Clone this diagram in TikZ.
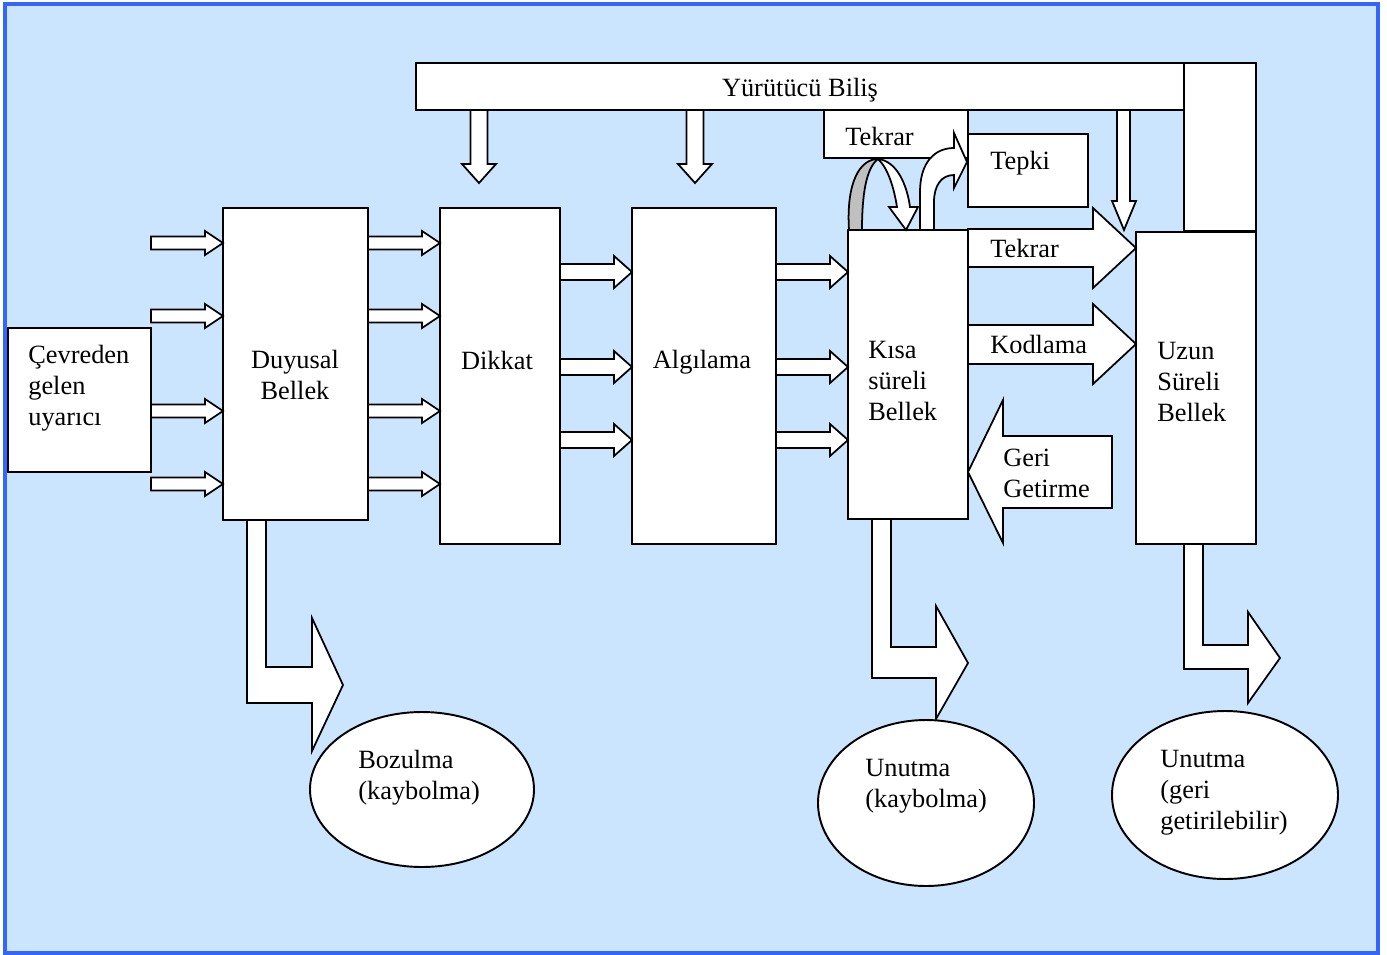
\documentclass[tikz,border=0pt]{standalone}
\usepackage{fontspec}
\setmainfont{Liberation Serif}
\definecolor{bgblue}{HTML}{CCE5FF}
\definecolor{frameblue}{HTML}{3366FF}
\definecolor{loopgray}{HTML}{C0C0C0}

\begin{document}
\begin{tikzpicture}[x=0.02cm, y=-0.02cm, line join=miter,
    box/.style={draw, fill=white, line width=1.1pt},
    blk/.style={draw, fill=white, line width=1pt},
    txt/.style={font=\fontsize{15}{17.6}\selectfont, inner sep=0pt, align=left}]
    \useasboundingbox (0,0) rectangle (1387,954);
    \draw[frameblue, fill=bgblue, line width=2.3pt] (5,4) rectangle (1378,953);

    % boxes
    \draw[box] (8,328) rectangle (151,472);
    \draw[box] (223,208) rectangle (368,520);
    \draw[box] (440,208) rectangle (560,544);
    \draw[box] (632,208) rectangle (776,544);
    \draw[box] (848,230) rectangle (968,519);
    \draw[box] (1136,232) rectangle (1256,544);
    \draw[box] (1184,63) rectangle (1256,231);
    \draw[box] (416,63) rectangle (1184,110);
    \draw[box] (824,110) rectangle (968,158);
    \draw[box] (968,134) rectangle (1088,207);

    % small arrows
    \foreach \y in {243,316,411,484} {
        \draw[blk] (151,\y-6.5) -- (205,\y-6.5) -- (205,\y-12) -- (223,\y) -- (205,\y+12) -- (205,\y+6.5) -- (151,\y+6.5) -- cycle;
        \draw[blk] (368,\y-6.5) -- (422,\y-6.5) -- (422,\y-12) -- (440,\y) -- (422,\y+12) -- (422,\y+6.5) -- (368,\y+6.5) -- cycle;
    }
    \foreach \y in {272,367,440} {
        \draw[blk] (560,\y-8) -- (614,\y-8) -- (614,\y-16) -- (632,\y) -- (614,\y+16) -- (614,\y+8) -- (560,\y+8) -- cycle;
        \draw[blk] (776,\y-8) -- (830,\y-8) -- (830,\y-16) -- (848,\y) -- (830,\y+16) -- (830,\y+8) -- (776,\y+8) -- cycle;
    }
    \foreach \x in {479,695} {
        \draw[blk] (\x-8.5,110) -- (\x-8.5,164) -- (\x-17,164) -- (\x,183) -- (\x+17,164) -- (\x+8.5,164) -- (\x+8.5,110) -- cycle;
    }
    \draw[blk] (1117,110) -- (1117,201) -- (1112,201) -- (1124,230) -- (1136,201) -- (1130,201) -- (1130,110) -- cycle;

    % big arrows
    \draw[blk] (968,229) -- (1093,229) -- (1093,208) -- (1136,248) -- (1093,288) -- (1093,267) -- (968,267) -- cycle;
    \draw[blk] (968,325) -- (1093,325) -- (1093,304) -- (1136,344) -- (1093,384) -- (1093,364) -- (968,364) -- cycle;
    \draw[blk] (968,472) -- (1003,400) -- (1003,436) -- (1112,436) -- (1112,508) -- (1003,508) -- (1003,543) -- cycle;

    % bent arrows
    \draw[blk] (247,520) -- (247,703) -- (312,703) -- (312,751) -- (343,685) -- (312,618) -- (312,667) -- (266,667) -- (266,520) -- cycle;
    \draw[blk] (872,519) -- (872,678) -- (936,678) -- (936,719) -- (968,663) -- (936,606) -- (936,647) -- (891,647) -- (891,519) -- cycle;
    \draw[blk] (1184,544) -- (1184,669) -- (1248,669) -- (1248,703) -- (1280,658) -- (1248,612) -- (1248,645) -- (1203,645) -- (1203,544) -- cycle;

    % loop arrow and Tepki arrow
    \draw[blk, fill=loopgray] (849,230) .. controls (846,182) and (860,159) .. (878,159)
        .. controls (866,168) and (862,195) .. (862,230) -- cycle;
    \draw[blk] (878,159) .. controls (897,161) and (907,185) .. (910,207) -- (918,207) -- (906,230)
        -- (889,207) -- (897,207) .. controls (894,188) and (888,168) .. (878,159) -- cycle;
    \draw[blk] (920,230) -- (920,192) .. controls (920,162) and (935,148) .. (954,148) -- (954,133)
        -- (967,162) -- (954,188) -- (954,175) .. controls (941,175) and (934,186) .. (934,202) -- (934,230) -- cycle;

    % ellipses
    \draw[box] (422,789.5) ellipse [x radius=112, y radius=77.5];
    \draw[box] (926,803) ellipse [x radius=108, y radius=83];
    \draw[box] (1225,795) ellipse [x radius=113, y radius=84];

    % labels
    \node[txt, anchor=west] (cevre) at (28,388) {Çevreden\\gelen\\uyarıcı};
    \node[txt, align=center] (duyusal) at (295,375) {Duyusal\\Bellek};
    \node[txt] (dikkat) at (497,360) {Dikkat};
    \node[txt] (algilama) at (702,362.5) {Algılama};
    \node[txt, anchor=west] (kisa) at (868,381) {Kısa\\süreli\\Bellek};
    \node[txt, anchor=west] (uzun) at (1157,382) {Uzun\\Süreli\\Bellek};
    \node[txt] (yurutucu) at (800,90) {Yürütücü Biliş};
    \node[txt, anchor=west] (tekrar1) at (845,136) {Tekrar};
    \node[txt, anchor=west] (tepki) at (990,163.5) {Tepki};
    \node[txt, anchor=west] (tekrar2) at (990,248.5) {Tekrar};
    \node[txt, anchor=west] (kodlama) at (990,344.5) {Kodlama};
    \node[txt, anchor=west] (geri) at (1003,473.5) {Geri\\Getirme};
    \node[txt, anchor=west] (bozulma) at (358,777.5) {Bozulma\\(kaybolma)};
    \node[txt, anchor=west] (unutma1) at (865,786.5) {Unutma\\(kaybolma)};
    \node[txt, anchor=west] (unutma2) at (1160,792.5) {Unutma\\(geri\\getirilebilir)};
\end{tikzpicture}
\end{document}
